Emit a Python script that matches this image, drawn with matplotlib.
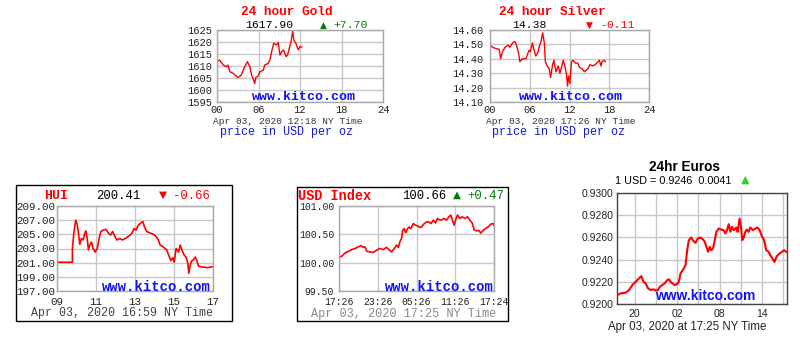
import matplotlib
matplotlib.use('Agg')
import matplotlib.pyplot as plt
from matplotlib.patches import Rectangle

W, H = 800, 342
MONO = 'Liberation Mono'
SANS = 'Liberation Sans'
RED = '#ff0000'
GREEN = '#007a00'
BLUE = '#1010ff'

# 24 hour gold (hours since midnight)
gold_h = [0, 0.4, 0.9, 1.35, 1.6, 1.85, 2.3, 3.05, 3.5, 4.0, 4.4, 4.75, 5.0, 5.3, 5.45,
          5.6, 5.95, 6.2, 6.7, 6.9, 7.4, 7.65, 7.9, 8.2, 8.6, 8.85, 9.1, 9.35, 9.6, 10.0,
          10.2, 10.45, 10.7, 10.95, 11.1, 11.4, 11.75, 12.0, 12.25]
gold_p = [1611.8, 1612.5, 1610.4, 1609.7, 1610.4, 1607.6, 1607.0, 1605.2, 1606.2, 1609.7,
          1611.8, 1609.7, 1606.2, 1604.1, 1602.7, 1605.2, 1605.8, 1607.6, 1608.3, 1610.4,
          1611.1, 1612.5, 1616.0, 1619.5, 1618.8, 1619.8, 1614.6, 1616.0, 1616.7, 1613.9,
          1614.6, 1617.4, 1620.1, 1624.7, 1620.8, 1619.5, 1616.7, 1618.1, 1617.9]

# 24 hour silver
silver_h = [0, 0.5, 1.0, 1.4, 1.6, 1.9, 2.26, 2.76, 3.0, 3.4, 3.75, 4.0, 4.3, 4.5, 4.9,
            5.4, 5.65, 5.9, 6.1, 6.4, 6.65, 6.9, 7.2, 7.4, 7.7, 7.95, 8.2, 8.35, 8.65, 8.95,
            9.15, 9.45, 9.65, 9.95, 10.3, 10.55, 10.85, 11.05, 11.3, 11.55, 11.7, 11.85,
            12.05, 12.3, 12.5, 12.9, 13.25, 13.5, 13.9, 14.25, 14.75, 15.1, 15.5, 15.9,
            16.3, 16.5, 16.75, 16.9, 17.25, 17.4]
silver_p = [14.495, 14.477, 14.47, 14.465, 14.40, 14.45, 14.48, 14.495, 14.48, 14.51,
            14.52, 14.495, 14.44, 14.38, 14.40, 14.40, 14.43, 14.46, 14.45, 14.51, 14.46,
            14.42, 14.44, 14.48, 14.52, 14.58, 14.51, 14.38, 14.35, 14.33, 14.27, 14.36,
            14.39, 14.31, 14.35, 14.30, 14.35, 14.39, 14.35, 14.29, 14.21, 14.28, 14.23,
            14.38, 14.39, 14.37, 14.37, 14.34, 14.33, 14.31, 14.33, 14.36, 14.35, 14.36,
            14.38, 14.39, 14.35, 14.38, 14.39, 14.38]

# HUI, NY hours
hui_h = [9.0, 9.79, 9.79, 9.86, 9.96, 10.03, 10.08, 10.17, 10.25, 10.34, 10.42, 10.48,
         10.55, 10.61, 10.68, 10.77, 10.85, 10.96, 11.06, 11.16, 11.25, 11.37, 11.51,
         11.63, 11.75, 11.85, 11.94, 12.06, 12.23, 12.36, 12.49, 12.66, 12.83, 12.95,
         13.05, 13.17, 13.26, 13.40, 13.48, 13.60, 13.77, 13.94, 14.08, 14.20, 14.29,
         14.46, 14.63, 14.72, 14.84, 14.94, 15.01, 15.11, 15.23, 15.32, 15.40, 15.52,
         15.63, 15.71, 15.76, 15.83, 15.92, 16.00, 16.09, 16.17, 16.26, 16.43, 16.69, 16.97]
hui_v = [201.06, 201.06, 202.9, 205.1, 207.0, 206.5, 205.6, 203.6, 204.4, 204.2, 205.1,
         205.5, 204.4, 202.8, 203.5, 203.9, 203.0, 202.5, 203.0, 204.4, 205.4, 205.6,
         205.7, 205.2, 204.9, 205.4, 204.9, 204.2, 204.4, 204.2, 204.4, 204.7, 205.1,
         205.8, 205.6, 206.3, 206.5, 206.8, 206.1, 205.4, 205.2, 205.0, 204.7, 204.2,
         203.5, 203.2, 202.8, 202.1, 201.3, 201.7, 201.1, 203.0, 202.5, 203.5, 202.8,
         202.1, 201.7, 200.9, 199.5, 200.7, 201.3, 201.4, 201.8, 201.3, 200.5, 200.4,
         200.3, 200.41]

# USD index, hours after 17:26
usd_h = [0, 0.41, 0.82, 1.44, 1.96, 2.47, 2.99, 3.40, 3.76, 4.02, 4.28, 4.79, 5.31, 5.82,
         6.34, 6.86, 7.37, 7.73, 8.14, 8.56, 8.92, 9.18, 9.43, 9.69, 9.85, 10.10, 10.31,
         10.62, 10.88, 11.13, 11.49, 11.86, 12.16, 12.53, 12.78, 13.20, 13.56, 13.92,
         14.23, 14.59, 14.95, 15.26, 15.62, 15.98, 16.29, 16.65, 17.01, 17.32, 17.53,
         17.84, 18.04, 18.35, 18.71, 19.07, 19.48, 19.90, 20.26, 20.62, 20.93, 21.29,
         21.65, 21.96, 22.32, 22.68, 23.09, 23.51, 23.87, 24.0]
usd_v = [100.10, 100.11, 100.16, 100.20, 100.23, 100.25, 100.28, 100.30, 100.27, 100.28,
         100.20, 100.19, 100.18, 100.22, 100.25, 100.23, 100.27, 100.23, 100.19, 100.25,
         100.31, 100.27, 100.37, 100.43, 100.57, 100.60, 100.53, 100.60, 100.63, 100.60,
         100.69, 100.66, 100.65, 100.62, 100.63, 100.69, 100.72, 100.72, 100.69, 100.75,
         100.70, 100.78, 100.75, 100.76, 100.78, 100.75, 100.81, 100.84, 100.76, 100.66,
         100.75, 100.84, 100.78, 100.81, 100.78, 100.81, 100.75, 100.70, 100.58, 100.56,
         100.57, 100.52, 100.57, 100.60, 100.63, 100.68, 100.69, 100.66]

# 24hr euros, hours (20 -> 20, 02 -> 26, ...)
eur_h = [17.56, 18.03, 18.73, 19.2, 19.67, 20.14, 20.61, 20.94, 21.22, 21.55, 21.88, 22.25,
         22.63, 22.96, 23.28, 23.56, 23.89, 24.22, 24.59, 24.83, 25.06, 25.30, 25.62, 26.0,
         26.23, 26.47, 26.84, 27.17, 27.41, 27.64, 27.97, 28.25, 28.58, 28.91, 29.28, 29.66,
         29.89, 30.13, 30.36, 30.59, 30.78, 31.06, 31.25, 31.53, 31.86, 32.19, 32.56, 32.80,
         33.03, 33.27, 33.50, 33.73, 33.97, 34.34, 34.53, 34.81, 35.0, 35.19, 35.38, 35.61,
         35.84, 36.08, 36.31, 36.69, 37.02, 37.34, 37.63, 37.95, 38.28, 38.56, 38.89, 39.22,
         39.59, 39.73, 40.06, 40.44, 40.77, 41.09, 41.38]
eur_v = [0.92081, 0.92096, 0.92102, 0.92126, 0.92171, 0.92201, 0.92231, 0.92251, 0.92201,
         0.92186, 0.92141, 0.92126, 0.92132, 0.92120, 0.92126, 0.92156, 0.92171, 0.92186,
         0.92216, 0.92222, 0.92201, 0.92186, 0.92171, 0.92180, 0.92201, 0.92275, 0.92311,
         0.92350, 0.92485, 0.92575, 0.92599, 0.92569, 0.92551, 0.92590, 0.92599, 0.92581,
         0.92560, 0.92515, 0.92470, 0.92515, 0.92485, 0.92500, 0.92560, 0.92650, 0.92680,
         0.92671, 0.92665, 0.92635, 0.92665, 0.92719, 0.92650, 0.92695, 0.92665, 0.92689,
         0.92650, 0.92769, 0.92695, 0.92575, 0.92599, 0.92650, 0.92671, 0.92650, 0.92689,
         0.92665, 0.92680, 0.92689, 0.92665, 0.92611, 0.92575, 0.92485, 0.92470, 0.92431,
         0.92395, 0.92380, 0.92431, 0.92455, 0.92470, 0.92485, 0.92470]

fig = plt.figure(figsize=(W / 100, H / 100), dpi=100)
fig.patch.set_facecolor('white')


def box(l, t, r, b):
    return fig.add_axes([l / W, 1 - b / H, (r - l) / W, (b - t) / H])


def put(x, y, s, **kw):
    kw.setdefault('va', 'center')
    kw.setdefault('family', MONO)
    fig.text(x / W, 1 - y / H, s, **kw)


def frame(l, t, r, b):
    fig.add_artist(Rectangle((l / W, 1 - b / H), (r - l) / W, (b - t) / H,
                             transform=fig.transFigure, fill=False, ec='black', lw=1))


def kitco(ax, xlim, xt, xl, ylim, yt, yl, size, xpad, ypad, family=MONO,
          spine='#a8a8a8'):
    ax.set_xlim(xlim)
    ax.set_ylim(ylim)
    ax.set_xticks(xt, xl)
    ax.set_yticks(yt, yl)
    ax.tick_params(length=0, labelsize=size, colors='#222222')
    ax.tick_params(axis='x', pad=xpad)
    ax.tick_params(axis='y', pad=ypad)
    for lab in ax.get_xticklabels() + ax.get_yticklabels():
        lab.set_family(family)
    ax.grid(True, color='#c8c8c8', lw=1)
    ax.set_axisbelow(True)
    for s in ax.spines.values():
        s.set_color(spine)
        s.set_linewidth(1)


# ---- gold ----
ax = box(217, 30, 383, 102)
kitco(ax, (0, 24), [0, 6, 12, 18, 24], ['00', '06', '12', '18', '24'],
      (1595, 1625), list(range(1595, 1626, 5)), [str(v) for v in range(1595, 1626, 5)],
      7.5, 2.4, 3.6)
ax.plot(gold_h, gold_p, color=RED, lw=1)
put(287, 12, '24 hour Gold', color=RED, ha='center', fontsize=9.2, weight='bold')
put(245, 25.5, '1617.90', color='black', ha='left', fontsize=8.2)
put(323, 25, '▲', color=GREEN, ha='center', fontsize=6.5, family='DejaVu Sans')
put(333, 25.5, '+7.70', color=GREEN, ha='left', fontsize=8.2)
put(303.5, 97.5, 'www.kitco.com', color=BLUE, ha='center', fontsize=9.5, weight='bold')
put(288, 121.5, 'Apr 03, 2020 12:18 NY Time', color='#333333', ha='center', fontsize=6.8)
put(286, 132.5, 'price in USD per oz', color='#1a1acc', ha='center', fontsize=8.5)

# ---- silver ----
ax = box(490, 30, 649, 102)
sv = [14.1, 14.2, 14.3, 14.4, 14.5, 14.6]
kitco(ax, (0, 24), [0, 6, 12, 18, 24], ['00', '06', '12', '18', '24'],
      (14.1, 14.6), sv, ['%.2f' % v for v in sv], 7.5, 2.4, 4.8)
ax.plot(silver_h, silver_p, color=RED, lw=1)
put(552.5, 12, '24 hour Silver', color=RED, ha='center', fontsize=9.2, weight='bold')
put(512, 25.5, '14.38', color='black', ha='left', fontsize=8.2)
put(589, 25, '▼', color=RED, ha='center', fontsize=6.5, family='DejaVu Sans')
put(600, 25.5, '-0.11', color=RED, ha='left', fontsize=8.2)
put(570.5, 97.5, 'www.kitco.com', color=BLUE, ha='center', fontsize=9.5, weight='bold')
put(561, 121.5, 'Apr 03, 2020 17:26 NY Time', color='#333333', ha='center', fontsize=6.8)
put(559, 132.5, 'price in USD per oz', color='#1a1acc', ha='center', fontsize=8.5)

# ---- HUI ----
frame(16, 185, 232, 321)
ax = box(57, 206, 213, 291)
hv = list(range(197, 210, 2))
kitco(ax, (9, 17), [9, 11, 13, 15, 17], ['09', '11', '13', '15', '17'],
      (197, 209), hv, ['%.2f' % v for v in hv], 7.8, 4.3, 1.4)
ax.plot(hui_h, hui_v, color=RED, lw=1.2)
put(56.5, 196, 'HUI', color=RED, ha='center', fontsize=9.5, weight='bold')
put(118.5, 196, '200.41', color='black', ha='center', fontsize=8.8)
put(162.7, 195, '▼', color=RED, ha='center', fontsize=7.5, family='DejaVu Sans')
put(173, 196, '-0.66', color=RED, ha='left', fontsize=8.8)
put(156.5, 287, 'www.kitco.com', color=BLUE, ha='center', fontsize=10, weight='bold')
put(122, 313, 'Apr 03, 2020 16:59 NY Time', color='#444444', ha='center', fontsize=8.4)

# ---- USD index ----
frame(297, 187, 508, 321)
ax = box(339, 206, 494, 291)
kitco(ax, (0, 24), [0, 6, 12, 18, 24], ['17:26', '23:26', '05:26', '11:26', '17:24'],
      (99.5, 101.0), [99.5, 100.0, 100.5, 101.0], ['99.50', '100.00', '100.50', '101.00'],
      7, 4.3, 3.6)
ax.plot(usd_h, usd_v, color=RED, lw=1.2)
put(298, 196, 'USD Index', color=RED, ha='left', fontsize=9.8, weight='bold')
put(402, 196, '100.66', color='black', ha='left', fontsize=8.8)
put(457, 195, '▲', color=GREEN, ha='center', fontsize=7.5, family='DejaVu Sans')
put(467, 196, '+0.47', color=GREEN, ha='left', fontsize=8.8)
put(439.5, 287, 'www.kitco.com', color=BLUE, ha='center', fontsize=10, weight='bold')
put(403.5, 314, 'Apr 03, 2020 17:25 NY Time', color='#8a8a8a', ha='center', fontsize=8.6)

# ---- euros ----
ax = box(617, 193, 787, 304)
ev = [0.920, 0.922, 0.924, 0.926, 0.928, 0.930]
kitco(ax, (17.5, 41.5), [20, 26, 32, 38], ['20', '02', '08', '14'],
      (0.92, 0.93), ev, ['%.4f' % v for v in ev], 7.5, 3.6, 2.4,
      family=SANS, spine='#444444')
ax.set_xticks([23, 29, 35, 41], minor=True)
ax.tick_params(which='minor', length=0)
ax.grid(True, which='minor', axis='x', color='#c8c8c8', lw=1)
ax.plot(eur_h, eur_v, color=RED, lw=1.5)
put(684, 167, '24hr Euros', color='black', ha='center', fontsize=9.8, weight='bold',
    family=SANS)
put(615, 181, '1 USD = 0.9246  0.0041', color='black', ha='left', fontsize=7.8,
    family=SANS)
put(745, 180, '▲', color='#33cc33', ha='center', fontsize=8, family='DejaVu Sans')
put(705.5, 296, 'www.kitco.com', color=BLUE, ha='center', fontsize=10, weight='bold',
    family=SANS)
put(687.5, 327, 'Apr 03, 2020 at 17:25 NY Time', color='#222222', ha='center',
    fontsize=8.3, family=SANS)

fig.savefig('out.png', dpi=100, facecolor='white')
